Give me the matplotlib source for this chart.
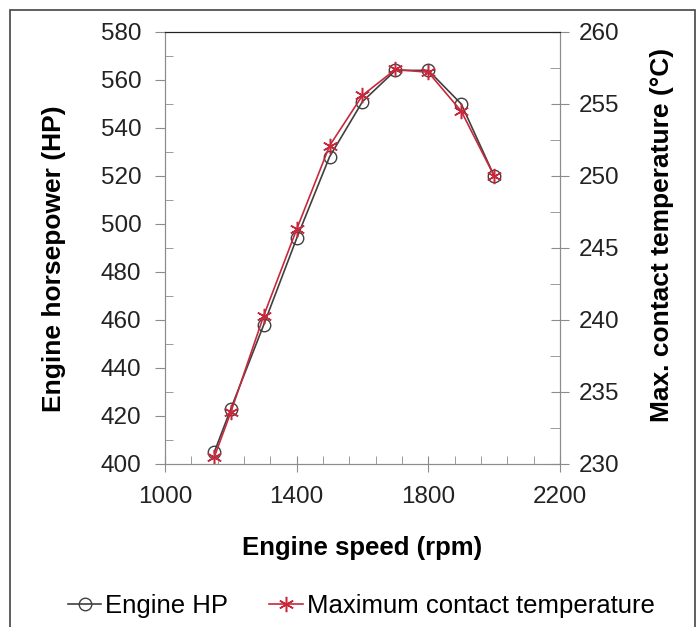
import numpy as np
import matplotlib.pyplot as plt
from matplotlib.patches import Rectangle

plt.rcParams['font.family'] = ['Liberation Sans', 'DejaVu Sans']

# data
speed = [1150, 1200, 1300, 1400, 1500, 1600, 1700, 1800, 1900, 2000]
engine_hp = [405, 423, 458, 494, 528, 551, 564, 564, 550, 520]
max_temp = [230.5, 233.6, 240.3, 246.3, 252.1, 255.6, 257.4, 257.2, 254.5, 250.0]

grey = '#8c8c8c'
red = '#c8283c'
asterisk = (6, 2, 0)

fig = plt.figure(figsize=(7, 6.27), dpi=100)
ax = fig.add_axes([0.2357, 0.26, 0.5643, 0.689])
ax2 = ax.twinx()

l1, = ax.plot(speed, engine_hp, color='#404040', lw=1.2, marker='o', ms=9,
              mfc='none', mec='#404040', mew=1.0, label='Engine HP')
l2, = ax2.plot(speed, max_temp, color=red, lw=1.2, marker=asterisk, ms=11,
               mfc='none', mec=red, mew=1.1, label='Maximum contact temperature')

ax.set_xlim(1000, 2200)
ax.set_ylim(400, 580)
ax2.set_ylim(230, 260)

ax.set_xticks(np.arange(1000, 2201, 400))
ax.set_xticks(np.arange(1000, 2201, 80), minor=True)
ax.set_yticks(np.arange(400, 581, 20))
ax.set_yticks(np.arange(400, 581, 10), minor=True)
ax2.set_yticks(np.arange(230, 261, 5))
ax2.set_yticks(np.arange(230, 261, 2.5), minor=True)

for a in (ax, ax2):
    for s in ['left', 'right', 'bottom']:
        a.spines[s].set_color(grey)
    a.spines['top'].set_color('#222222')
    a.tick_params(which='both', color=grey, labelsize=17.5, labelcolor='#222222')

ax.tick_params(axis='x', which='major', direction='inout', length=12, pad=10)
ax.tick_params(axis='x', which='minor', direction='in', length=6)
ax.tick_params(axis='y', which='major', direction='out', length=7, pad=10)
ax.tick_params(axis='y', which='minor', direction='in', length=6)
ax2.tick_params(axis='y', which='major', direction='inout', length=13, pad=7)
ax2.tick_params(axis='y', which='minor', direction='in', length=7)

ax.set_xlabel('Engine speed (rpm)', fontsize=18.5, fontweight='bold', labelpad=20)
ax.set_ylabel('Engine horsepower (HP)', fontsize=19, fontweight='bold', labelpad=25)
ax2.set_ylabel('Max. contact temperature (\u00b0C)', fontsize=19,
               fontweight='bold', labelpad=22)
ax.yaxis.label.set_y(0.475)
ax2.yaxis.label.set_y(0.53)

fig.legend(handles=[l1, l2], loc='center', bbox_to_anchor=(0.516, 0.034),
           ncol=2, frameon=False, fontsize=18.5, handlelength=1.3,
           handletextpad=0.15, columnspacing=1.6)

# outer frame around the figure
fig.patches.append(Rectangle((10 / 700, -0.05), 685 / 700, 1.05 - 10 / 627,
                             transform=fig.transFigure, fill=False,
                             edgecolor='#444444', lw=1.2))

fig.savefig('out.png', dpi=100)
